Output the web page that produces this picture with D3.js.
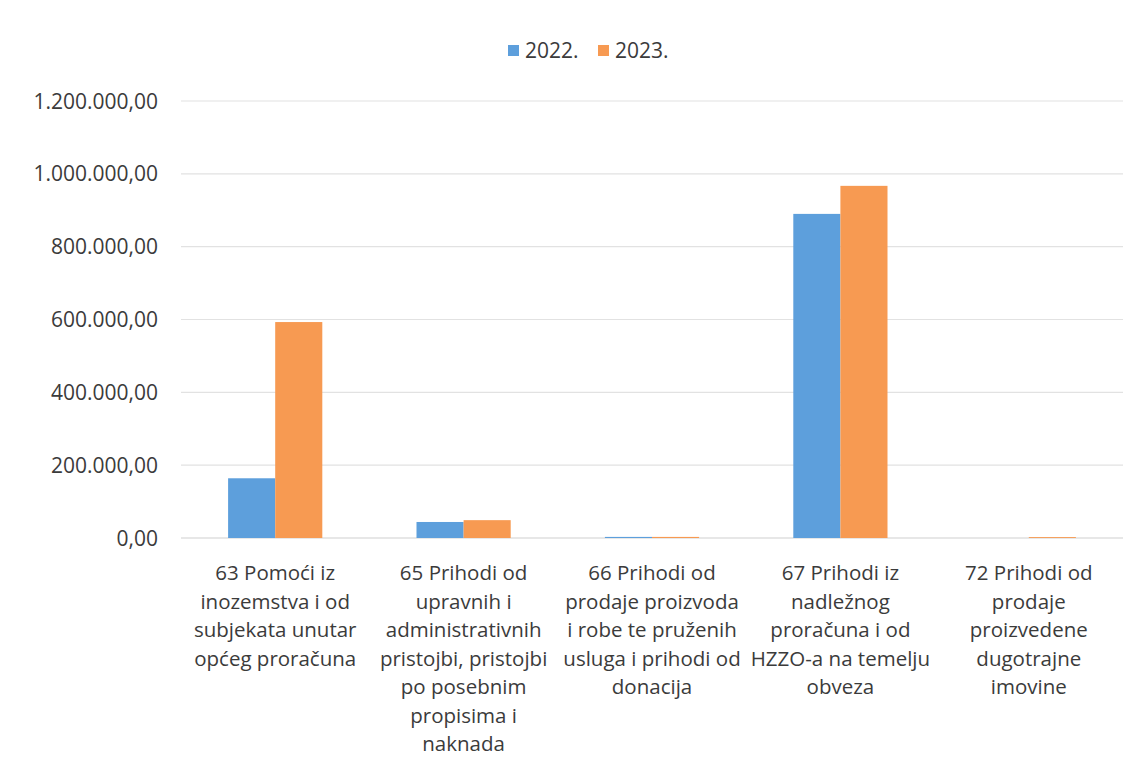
<!DOCTYPE html>
<html>
<head>
<meta charset="utf-8">
<script src="https://cdn.jsdelivr.net/npm/d3@7"></script>
<style>
  body { margin: 0; background: #fff; }
  svg text { font-family: "Open Sans", sans-serif; fill: #3b3b3b; }
</style>
</head>
<body>
<svg id="chart" width="1141" height="772"></svg>
<script>
// chart data
const categories = [
    ["63 Pomoći iz", "inozemstva i od", "subjekata unutar", "općeg proračuna"],
    ["65 Prihodi od", "upravnih i", "administrativnih", "pristojbi, pristojbi", "po posebnim", "propisima i", "naknada"],
    ["66 Prihodi od", "prodaje proizvoda", "i robe te pruženih", "usluga i prihodi od", "donacija"],
    ["67 Prihodi iz", "nadležnog", "proračuna i od", "HZZO-a na temelju", "obveza"],
    ["72 Prihodi od", "prodaje", "proizvedene", "dugotrajne", "imovine"]
];
const seriesNames = ["2022.", "2023."];
const values2022 = [164000, 44000, 3000, 890000, 0];
const values2023 = [593000, 49000, 3000, 967000, 2500];
const yTicks = [0, 200000, 400000, 600000, 800000, 1000000, 1200000];
const colors = ["#5d9fdc", "#f79a52"];

const svg = d3.select("#chart");

const x0 = d3.scaleBand()
    .domain(d3.range(categories.length))
    .range([181, 1123])
    .paddingInner(0.5)
    .paddingOuter(0.25);

const x1 = d3.scaleBand()
    .domain(seriesNames)
    .range([0, x0.bandwidth()]);

const y = d3.scaleLinear()
    .domain([0, 1200000])
    .range([538, 101]);

const fmt = v => d3.formatLocale({decimal: ",", thousands: ".", grouping: [3], currency: ["", ""]}).format(",.2f")(v);

// gridlines
svg.append("g")
    .selectAll("line")
    .data(yTicks)
    .enter()
    .append("line")
    .attr("x1", 181)
    .attr("x2", 1123)
    .attr("y1", d => y(d))
    .attr("y2", d => y(d))
    .attr("stroke", d => d === 0 ? "#d0d0d0" : "#e2e2e2")
    .attr("stroke-width", 1.2);

// y tick labels
svg.append("g")
    .selectAll("text")
    .data(yTicks)
    .enter()
    .append("text")
    .attr("x", 158)
    .attr("y", d => y(d) + 7.5)
    .attr("text-anchor", "end")
    .attr("font-size", "21px")
    .text(d => fmt(d));

// bars
const rows = categories.map((c, i) => ({i, vals: [values2022[i], values2023[i]]}));
const groups = svg.append("g")
    .selectAll("g")
    .data(rows)
    .enter()
    .append("g")
    .attr("transform", d => `translate(${x0(d.i)},0)`);

groups.selectAll("rect")
    .data(d => d.vals.map((v, k) => ({name: seriesNames[k], v, k})))
    .enter()
    .append("rect")
    .attr("x", d => x1(d.name))
    .attr("width", x1.bandwidth())
    .attr("y", d => y(d.v))
    .attr("height", d => y(0) - y(d.v))
    .attr("fill", d => colors[d.k]);

// category labels
const labels = svg.append("g")
    .selectAll("text")
    .data(categories)
    .enter()
    .append("text")
    .attr("text-anchor", "middle")
    .attr("font-size", "20.5px")
    .attr("transform", (d, i) => `translate(${x0(i) + x0.bandwidth() / 2},580)`);

labels.selectAll("tspan")
    .data(d => d)
    .enter()
    .append("tspan")
    .attr("x", 0)
    .attr("y", (d, j) => j * 28.5)
    .text(d => d);

// legend
const legend = svg.append("g")
    .selectAll("g")
    .data(seriesNames)
    .enter()
    .append("g")
    .attr("transform", (d, i) => `translate(${508 + i * 90},0)`);

legend.append("rect")
    .attr("x", 0)
    .attr("y", 45)
    .attr("width", 11)
    .attr("height", 11)
    .attr("fill", (d, i) => colors[i]);

legend.append("text")
    .attr("x", 17)
    .attr("y", 57.5)
    .attr("font-size", "21px")
    .text(d => d);
</script>
</body>
</html>
